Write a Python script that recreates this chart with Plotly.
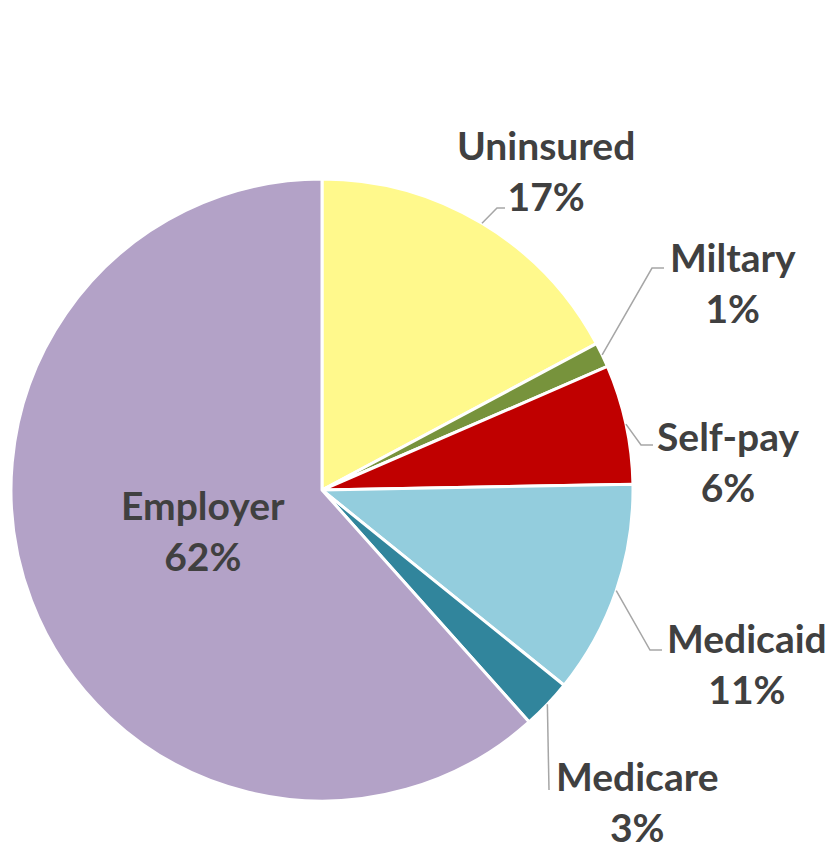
import math
import plotly.graph_objects as go

# ---- data ----
categories = ["Uninsured", "Miltary", "Self-pay", "Medicaid", "Medicare", "Employer"]
shares = [17.2, 1.3, 6.2, 11.1, 2.6, 61.6]
colors = ["#FFF98C", "#77933C", "#C00000", "#93CDDD", "#31859C", "#B3A2C7"]

# ---- layout (pixels) ----
W, H = 831, 851
L, R, T, B = 11, 198, 179, 50
plot_w = W - L - R
plot_h = H - T - B
radius = min(plot_w, plot_h) / 2
cx = L + plot_w / 2
cy = T + plot_h / 2

# label block centers and leader elbows (pixel)
label_pos = [(546, 170), (733, 282), (728, 461), (747, 663), (637, 801), (203, 530)]
elbows = [[(497, 208), (505, 208)], [(652, 268), (664, 268)], [(641, 445), (653, 445)],
          [(650, 650), (662, 650)], [(549, 790)], None]


def px_to_paper(x, y):
    return (x - L) / plot_w, (H - B - y) / plot_h


fig = go.Figure(go.Pie(
    labels=categories, values=shares, sort=False, direction="clockwise", rotation=0,
    marker=dict(colors=colors, line=dict(color="white", width=3)),
    textinfo="none", hoverinfo="label+percent", showlegend=False,
))

total = sum(shares)
cum = 0.0
annotations = []
shapes = []
for i, (cat, v) in enumerate(zip(categories, shares)):
    mid = (cum + v / 2) / total * 2 * math.pi
    cum += v
    pct = round(v / total * 100)
    lx, ly = label_pos[i]
    ax_, ay_ = px_to_paper(lx, ly)
    annotations.append(dict(
        x=ax_, y=ay_, xref="paper", yref="paper", xanchor="center", yanchor="middle",
        text=f"<b>{cat}</b><br><b>{pct}%</b>", showarrow=False, align="center",
        borderpad=0, font=dict(family="Lato", size=39, color="#404040"),
    ))
    if elbows[i] is not None:
        ex = cx + radius * math.sin(mid)
        ey = cy - radius * math.cos(mid)
        pts = [(ex, ey)] + elbows[i]
        path = ""
        for j, (px, py) in enumerate(pts):
            X, Y = px_to_paper(px, py)
            path += ("M" if j == 0 else "L") + f"{X:.5f},{Y:.5f} "
        shapes.append(dict(type="path", path=path.strip(), xref="paper", yref="paper",
                           line=dict(color="#A6A6A6", width=1.5)))

fig.update_layout(
    width=W, height=H, margin=dict(l=L, r=R, t=T, b=B),
    paper_bgcolor="white", plot_bgcolor="white",
    annotations=annotations, shapes=shapes,
)

fig.write_html("out.html")
